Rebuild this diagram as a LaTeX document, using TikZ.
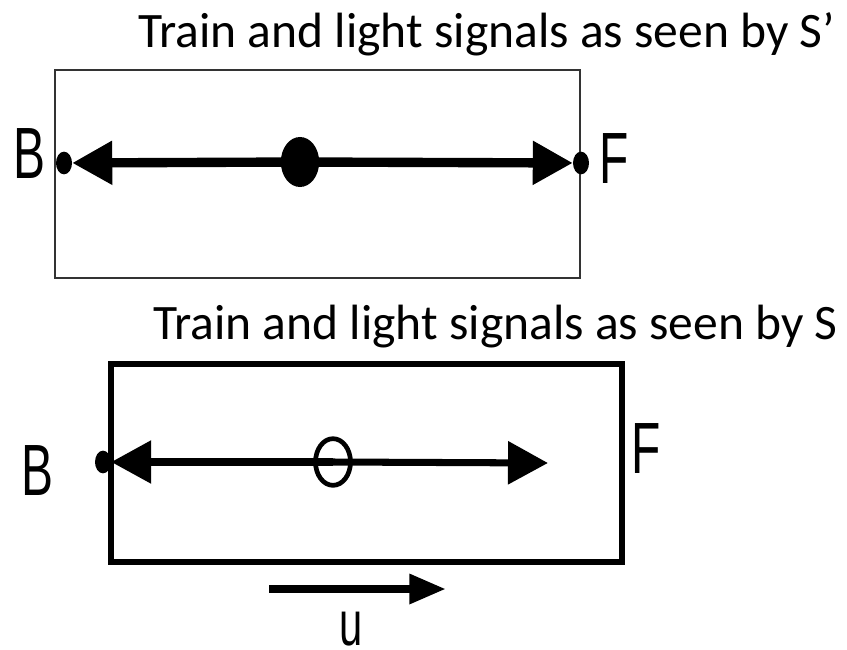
\documentclass[tikz,border=0pt]{standalone}
\usepackage{fontspec}
\setmainfont{Carlito}
\newfontfamily\lettersfont{Liberation Sans}
\usetikzlibrary{arrows.meta,shapes.geometric}

\tikzset{
	title/.style={font=\fontsize{42.3}{50}\selectfont, inner sep=0pt},
	endlabel/.style={font=\lettersfont\fontsize{62}{70}\selectfont, inner sep=0pt, xscale=0.66},
	enddot/.style={draw=none, fill=black, ellipse, inner sep=0pt, minimum width=0.48cm, minimum height=0.68cm},
	signal/.style={line width=8pt, -{Triangle[length=1.2cm, width=1.25cm]}},
}

\begin{document}
\begin{tikzpicture}[x=0.03cm, y=-0.03cm]
		\useasboundingbox (0,0) rectangle (847,650);

		% frame S'
		\node[title, anchor=north east] (t1) at (835,12) {Train and light signals as seen by S’};
		\draw[line width=1.6pt, black!80] (55,70) rectangle (580,278);

		\node[ellipse, fill=black, inner sep=0pt, minimum width=1.15cm, minimum height=1.5cm] (c1) at (300,162) {};
		\node[enddot] (b1) at (64,163) {};
		\node[enddot] (f1) at (581,163) {};
		\node[endlabel, anchor=base] (lb1) at (29,178) {B};
		\node[endlabel, anchor=base] (lf1) at (614,183) {F};

		\draw[signal] (c1.center) -- (b1);
		\draw[signal] (c1.center) -- (f1);

		% frame S
		\node[title, anchor=north east] (t2) at (838,305) {Train and light signals as seen by S};
		\draw[line width=5.5pt] (111,364) rectangle (622,562);

		\node[ellipse, draw, line width=4pt, inner sep=0pt, minimum width=1.05cm, minimum height=1.4cm] (c2) at (333,462) {};
		\node[enddot] (b2) at (103,462) {};
		\coordinate (f2) at (548,463);
		\node[endlabel, anchor=base] (lb2) at (37,495) {B};
		\node[endlabel, anchor=base] (lf2) at (646,473) {F};

		\draw[signal, line width=6pt] (c2.center) -- (b2);
		\draw[signal, line width=6pt] (c2.center) -- (f2);

		% velocity
		\coordinate (u0) at (269,589);
		\coordinate (u1) at (446,589);
		\draw[line width=7pt, -{Triangle[length=1.1cm, width=0.85cm]}] (u0) -- (u1);
		\node[endlabel, font=\lettersfont\fontsize{54}{60}\selectfont, anchor=base] (lu) at (351,645) {u};

	\end{tikzpicture}
\end{document}
